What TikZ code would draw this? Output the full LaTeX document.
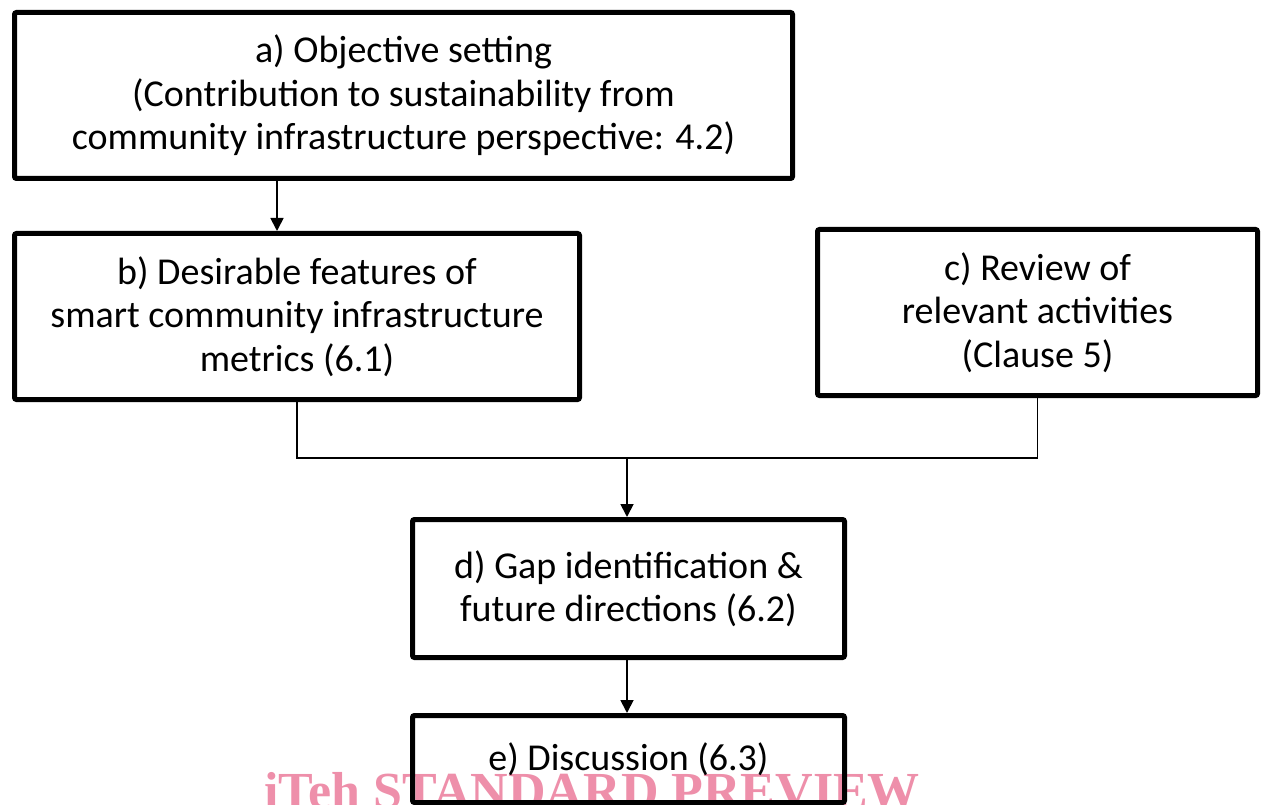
\documentclass[tikz,border=0pt]{standalone}
\usepackage{fontspec}
\setmainfont{Carlito}
\newfontfamily\markfont{Liberation Serif}
\usetikzlibrary{arrows.meta,positioning,calc}
\definecolor{ink}{HTML}{000000}
\definecolor{mark}{HTML}{EE8FAA}

\begin{document}
\begin{tikzpicture}[x=1pt, y=-1pt, font=\fontsize{38}{43.5}\selectfont,
 box/.style={draw=ink,line width=5pt,rounded corners=2pt,fill=white,align=center,inner sep=0pt},
 arr/.style={-{Triangle[length=13pt,width=13pt]},draw=ink,line width=1.8pt},
 link/.style={draw=ink,line width=1.4pt}]
\useasboundingbox (0,0) rectangle (1264,805);
\node[box, minimum width=778pt, minimum height=166pt] (a) at (403.5,95.5)
 {a) Objective setting\\(Contribution to sustainability from\\community infrastructure perspective: 4.2)};
\node[box, minimum width=565pt, minimum height=166pt] (b) at (297,316.5)
 {b) Desirable features of\\smart community infrastructure\\metrics (6.1)};
\node[box, minimum width=440pt, minimum height=166pt] (c) at (1037.5,312.5)
 {c) Review of\\relevant activities\\(Clause 5)};
\node[box, minimum width=432pt, minimum height=138pt] (d) at (628.5,588.5)
 {d) Gap identification \&\\future directions (6.2)};
\node[box, minimum width=432pt, minimum height=87pt] (e) at (628.5,759)
 {e) Discussion (6.3)};
\coordinate (j) at (627,458);
\draw[arr] ([xshift=-20pt]b.north |- a.south) -- ([xshift=-20pt]b.north);
\draw[link] (b.south) |- (j); \draw[link] (c.south) |- (j);
\draw[arr] (j) -- (j |- d.north);
\draw[arr] (d.south -| j) -- (e.north -| j);
\begin{scope}[blend mode=multiply]
\node[anchor=base west, inner sep=0pt, text=mark, font=\markfont\bfseries\fontsize{52}{52}\selectfont] (w) at (264,808) {iTeh STANDARD PREVIEW};
\end{scope}
\end{tikzpicture}
\end{document}
